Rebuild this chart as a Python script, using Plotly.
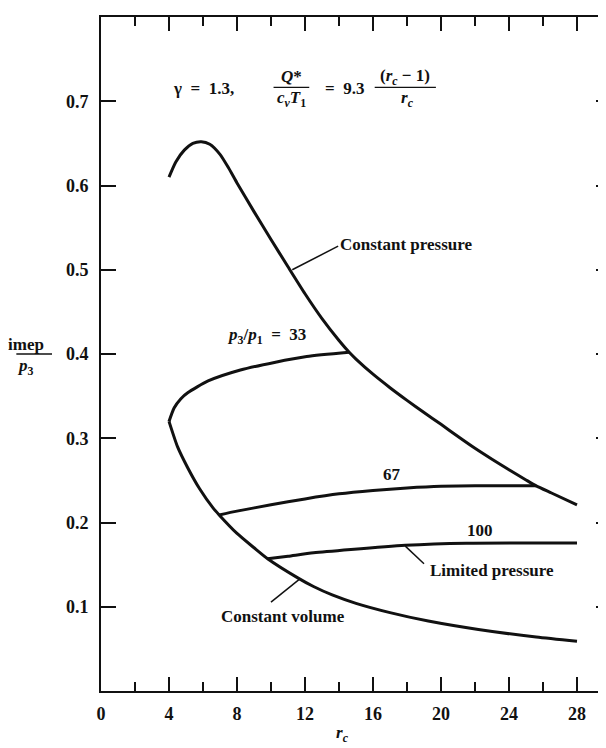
import plotly.graph_objects as go

# ---- data ----
cp_x = [4.0, 4.4, 4.9, 5.4, 5.9, 6.4, 7.0, 7.5, 8.0, 9.0, 10.0, 11.0, 12.0, 13.0, 14.0, 14.6,
        15.0, 16.0, 17.0, 18.0, 19.0, 20.0, 21.0, 22.0, 23.0, 24.0, 25.0, 25.6, 26.5, 28.0]
cp_y = [0.610, 0.628, 0.642, 0.650, 0.652, 0.649, 0.637, 0.621, 0.603, 0.569, 0.536, 0.5035, 0.4715,
        0.442, 0.416, 0.402, 0.394, 0.376, 0.360, 0.345, 0.3305, 0.3165, 0.302, 0.288, 0.275,
        0.2625, 0.2505, 0.2435, 0.235, 0.221]

p33_x = [4.0, 4.3, 4.7, 5.1, 6.3, 8.2, 10.2, 12.1, 14.6]
p33_y = [0.320, 0.336, 0.347, 0.354, 0.368, 0.381, 0.390, 0.397, 0.402]

cv_x = [4.0, 4.5, 5.1, 5.8, 6.6, 6.95, 8.0, 9.0, 9.8, 11.6, 12.5, 13.6, 15.0, 17.0, 19.25, 22.2, 25.6, 28.0]
cv_y = [0.320, 0.290, 0.265, 0.240, 0.217, 0.209, 0.187, 0.170, 0.157, 0.134, 0.124, 0.114, 0.104,
        0.093, 0.083, 0.073, 0.064, 0.059]

p67_x = [6.95, 8.0, 10.0, 12.0, 14.0, 16.0, 18.0, 20.0, 22.0, 25.6]
p67_y = [0.209, 0.2135, 0.221, 0.228, 0.234, 0.238, 0.241, 0.243, 0.2435, 0.2435]

p100_x = [9.8, 11.0, 12.5, 14.7, 17.9, 21.5, 28.0]
p100_y = [0.157, 0.160, 0.164, 0.168, 0.173, 0.1755, 0.1757]

x_ticks = [0, 4, 8, 12, 16, 20, 24, 28]
y_ticks = [0.1, 0.2, 0.3, 0.4, 0.5, 0.6, 0.7]
y_tick_text = ["0.1", "0.2", "0.3", "0.4", "0.5", "0.6", "0.7"]

NB = "\u00a0"
# labels: (text, x, y, xanchor)
curve_labels = [
    ("<b>Constant pressure</b>", 13.97, 0.530, "left"),
    ("<b><i>p</i><sub>3</sub>/<i>p</i><sub>1</sub>" + NB * 2 + "=" + NB * 2 + "33</b>", 7.3, 0.421, "left"),
    ("<b>67</b>", 17.1, 0.257, "center"),
    ("<b>100</b>", 22.3, 0.190, "center"),
    ("<b>Limited pressure</b>", 19.25, 0.143, "left"),
    ("<b>Constant volume</b>", 6.95, 0.0886, "left"),
]
# leader lines: (x0, y0, x1, y1)
leaders = [
    (11.25, 0.500, 13.95, 0.528),
    (17.9, 0.172, 19.0, 0.151),
    (11.7, 0.133, 10.0, 0.1055),
]

FONT = "Liberation Serif"
BLACK = "#111111"
FS = 17

fig = go.Figure()
for xs, ys in [(cp_x, cp_y), (p33_x, p33_y), (cv_x, cv_y), (p67_x, p67_y), (p100_x, p100_y)]:
    fig.add_trace(go.Scatter(x=xs, y=ys, mode="lines",
                             line=dict(color=BLACK, width=3, shape="spline", smoothing=0.6),
                             showlegend=False, hoverinfo="skip"))

for (x0, y0, x1, y1) in leaders:
    fig.add_shape(type="line", xref="x", yref="y", x0=x0, y0=y0, x1=x1, y1=y1,
                  line=dict(color=BLACK, width=1.5))

for text, x, y, xa in curve_labels:
    fig.add_annotation(x=x, y=y, xref="x", yref="y", text=text, showarrow=False,
                       xanchor=xa, yanchor="middle",
                       font=dict(family=FONT, size=FS, color=BLACK))

# top equation
eq_parts = [
    ("<b>γ" + NB * 2 + "=" + NB * 2 + "1.3,</b>", 6.0, 0.7157),
    ("<b><i>Q</i>*</b>", 11.2, 0.7290),
    ("<b><i>c</i><sub><i>v</i></sub><i>T</i><sub>1</sub></b>", 11.2, 0.7025),
    ("<b>=" + NB * 2 + "9.3</b>", 14.3, 0.7157),
    ("<b>(<i>r</i><sub><i>c</i></sub> − 1)</b>", 17.9, 0.7290),
    ("<b><i>r</i><sub><i>c</i></sub></b>", 18.0, 0.7025),
]
for text, x, y in eq_parts:
    fig.add_annotation(x=x, y=y, xref="x", yref="y", text=text, showarrow=False,
                       xanchor="center", yanchor="middle",
                       font=dict(family=FONT, size=FS, color=BLACK))
fig.add_shape(type="line", xref="x", yref="y", x0=10.15, x1=12.25, y0=0.7165, y1=0.7165,
              line=dict(color=BLACK, width=1.3))
fig.add_shape(type="line", xref="x", yref="y", x0=16.1, x1=19.7, y0=0.7165, y1=0.7165,
              line=dict(color=BLACK, width=1.3))

# y-axis title as fraction
fig.add_annotation(x=-0.1465, y=0.4115, xref="paper", yref="y", text="<b>imep</b>", showarrow=False,
                   xanchor="center", yanchor="middle", font=dict(family=FONT, size=FS, color=BLACK))
fig.add_annotation(x=-0.148, y=0.384, xref="paper", yref="y",
                   text="<b><i>p</i><sub>3</sub></b>", showarrow=False,
                   xanchor="center", yanchor="middle", font=dict(family=FONT, size=FS, color=BLACK))
fig.add_shape(type="line", xref="paper", yref="y", x0=-0.166, x1=-0.096, y0=0.4, y1=0.4,
              line=dict(color=BLACK, width=1.3))

# x-axis title
fig.add_annotation(x=14.2, y=-0.064, xref="x", yref="paper",
                   text="<b><i>r</i><sub><i>c</i></sub></b>", showarrow=False,
                   xanchor="center", yanchor="middle", font=dict(family=FONT, size=FS, color=BLACK))

fig.update_layout(
    width=606, height=748,
    margin=dict(l=93, r=1, t=9, b=65),
    paper_bgcolor="white", plot_bgcolor="white",
    showlegend=False,
    xaxis=dict(range=[0, 30], tickvals=x_ticks, ticktext=[str(v) for v in x_ticks],
               ticks="inside", ticklen=14, tickwidth=2, tickcolor=BLACK,
               minor=dict(dtick=2, tick0=0, ticks="inside", ticklen=9, tickwidth=2, tickcolor=BLACK),
               showline=True, linecolor=BLACK, linewidth=2, mirror="allticks",
               showgrid=False, zeroline=False,
               tickfont=dict(family=FONT, size=18, color=BLACK, weight="bold"),
               ticklabelstandoff=5),
    yaxis=dict(range=[0, 0.8], tickvals=y_ticks, ticktext=y_tick_text,
               ticks="inside", ticklen=15, tickwidth=2, tickcolor=BLACK,
               showline=True, linecolor=BLACK, linewidth=2, mirror="allticks",
               showgrid=False, zeroline=False,
               tickfont=dict(family=FONT, size=18, color=BLACK, weight="bold"),
               ticklabelstandoff=7),
)

fig.write_html("out.html")
